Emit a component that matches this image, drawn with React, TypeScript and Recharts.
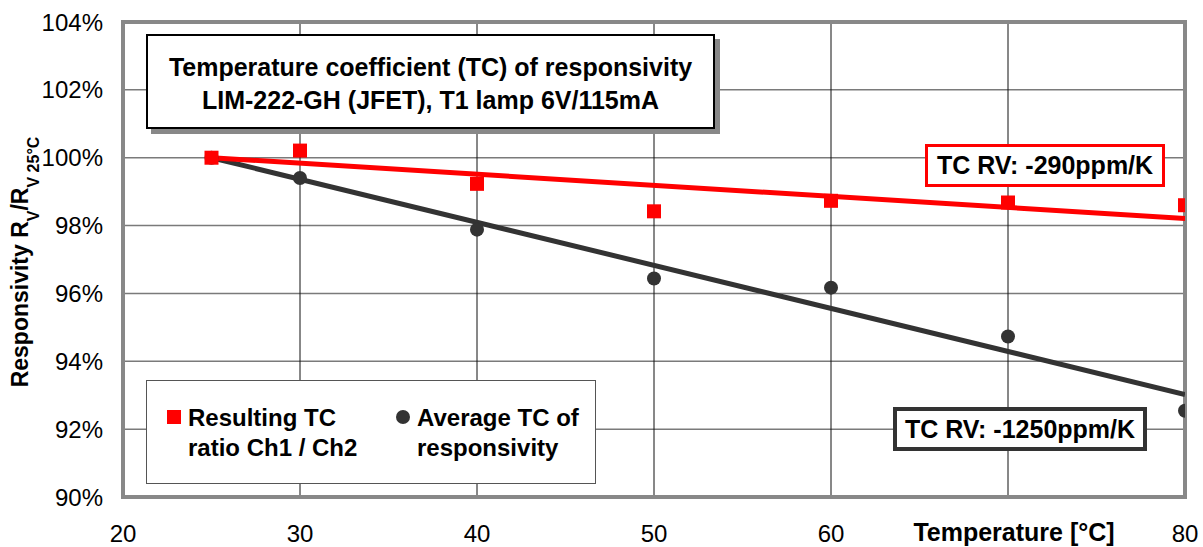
import {
    ScatterChart,
    Scatter,
    XAxis,
    YAxis,
    CartesianGrid,
    ReferenceArea,
} from 'recharts'

// measured points (temperature in °C, responsivity relative to 25°C in %)
const temps = [25, 30, 40, 50, 60, 70, 80]
const ratioTC = [100.0, 100.21, 99.23, 98.42, 98.73, 98.68, 98.6]
const averageTC = [100.0, 99.4, 97.88, 96.44, 96.17, 94.73, 92.54]

// linear fits, read at the ends of the range
const fitTemps = [25, 80]
const ratioFit = [100.0, 98.21]
const averageFit = [100.0, 93.02]

const xTicks = [20, 30, 40, 50, 60, 70, 80]
const yTicks = [90, 92, 94, 96, 98, 100, 102, 104]

const RED = '#ff0000'
const DARK = '#333333'
const FONT = '"Liberation Sans", Arial, sans-serif'

const ratioData = temps.map((t, i) => ({ t, v: ratioTC[i] }))
const averageData = temps.map((t, i) => ({ t, v: averageTC[i] }))
const ratioFitData = fitTemps.map((t, i) => ({ t, v: ratioFit[i] }))
const averageFitData = fitTemps.map((t, i) => ({ t, v: averageFit[i] }))

const Square = (props: any) => {
    const { cx, cy } = props
    return <rect x={cx - 7} y={cy - 7} width={14} height={14} fill={RED} />
}

const Dot = (props: any) => {
    const { cx, cy } = props
    return <circle cx={cx} cy={cy} r={7} fill={DARK} />
}

const NoMark = () => <g />

const boxText: React.CSSProperties = {
    position: 'absolute',
    fontFamily: FONT,
    fontWeight: 'bold',
    fontSize: 25,
    color: '#000',
    background: '#fff',
    boxSizing: 'border-box',
    whiteSpace: 'nowrap',
}

export default function App() {
    return (
        <div style={{ position: 'absolute', left: 0, top: 0, width: 1203, height: 547, background: '#fff' }}>
            <ScatterChart
                width={1203}
                height={547}
                margin={{ top: 22, right: 18, left: 0, bottom: 0 }}
            >
                <CartesianGrid vertical={false} stroke='#7a7a7a' strokeWidth={1.5} />
                <CartesianGrid horizontal={false} stroke='#111' strokeWidth={1} />
                <XAxis
                    type='number'
                    dataKey='t'
                    domain={[20, 80]}
                    ticks={xTicks}
                    height={50}
                    axisLine={false}
                    tickLine={false}
                    tickSize={0}
                    tickMargin={28}
                    tick={{ fill: '#000', fontSize: 24, fontFamily: FONT }}
                    allowDataOverflow
                />
                <YAxis
                    type='number'
                    dataKey='v'
                    domain={[90, 104]}
                    ticks={yTicks}
                    width={123}
                    axisLine={false}
                    tickLine={false}
                    tickSize={0}
                    tickMargin={20}
                    tickFormatter={(v: number) => `${v}%`}
                    tick={{ fill: '#000', fontSize: 24, fontFamily: FONT }}
                    allowDataOverflow
                />
                <ReferenceArea
                    x1={20}
                    x2={80}
                    y1={90}
                    y2={104}
                    fill='none'
                    stroke='#888'
                    strokeWidth={4}
                    fillOpacity={0}
                />
                <Scatter
                    data={averageFitData}
                    line={{ stroke: DARK, strokeWidth: 5 }}
                    shape={NoMark}
                    isAnimationActive={false}
                />
                <Scatter
                    data={ratioFitData}
                    line={{ stroke: RED, strokeWidth: 5 }}
                    shape={NoMark}
                    isAnimationActive={false}
                />
                <Scatter data={averageData} shape={Dot} isAnimationActive={false} />
                <Scatter data={ratioData} shape={Square} isAnimationActive={false} />
                <text
                    transform='translate(28, 262) rotate(-90)'
                    textAnchor='middle'
                    fontFamily={FONT}
                    fontWeight='bold'
                    fontSize={23}
                    fill='#000'
                >
                    <tspan>Responsivity R</tspan>
                    <tspan fontSize={16} dy={11}>V</tspan>
                    <tspan dy={-11}>/R</tspan>
                    <tspan fontSize={16} dy={11}>V 25°C</tspan>
                </text>
            </ScatterChart>

            {/* x axis title, drawn over the 70 tick like the original */}
            <div
                style={{
                    ...boxText,
                    left: 906,
                    top: 518,
                    width: 216,
                    height: 29,
                    textAlign: 'center',
                    lineHeight: '29px',
                }}
            >
                Temperature [°C]
            </div>

            {/* title box */}
            <div
                style={{
                    ...boxText,
                    left: 146,
                    top: 34,
                    width: 569,
                    height: 95,
                    border: '2px solid #000',
                    boxShadow: '5px 5px 0 #888',
                    textAlign: 'center',
                    lineHeight: '33px',
                    paddingTop: 15,
                }}
            >
                <div>Temperature coefficient (TC) of responsivity</div>
                <div>LIM-222-GH (JFET), T1 lamp 6V/115mA</div>
            </div>

            {/* legend */}
            <div
                style={{
                    ...boxText,
                    fontSize: 24,
                    left: 146,
                    top: 380,
                    width: 450,
                    height: 104,
                    border: '1.5px solid #555',
                }}
            >
                <div style={{ position: 'absolute', left: 20, top: 29, width: 14, height: 14, background: RED }} />
                <div style={{ position: 'absolute', left: 41, top: 22, lineHeight: '30px' }}>
                    Resulting TC<br />ratio Ch1 / Ch2
                </div>
                <div style={{ position: 'absolute', left: 249, top: 29, width: 14, height: 14, borderRadius: 7, background: DARK }} />
                <div style={{ position: 'absolute', left: 270, top: 22, lineHeight: '30px' }}>
                    Average TC of<br />responsivity
                </div>
            </div>

            {/* fit labels */}
            <div
                style={{
                    ...boxText,
                    left: 925,
                    top: 144,
                    width: 240,
                    height: 43,
                    border: `3px solid ${RED}`,
                    textAlign: 'center',
                    lineHeight: '37px',
                }}
            >
                TC RV: -290ppm/K
            </div>
            <div
                style={{
                    ...boxText,
                    left: 893,
                    top: 407,
                    width: 254,
                    height: 44,
                    border: `4px solid ${DARK}`,
                    textAlign: 'center',
                    lineHeight: '36px',
                }}
            >
                TC RV: -1250ppm/K
            </div>
        </div>
    )
}
